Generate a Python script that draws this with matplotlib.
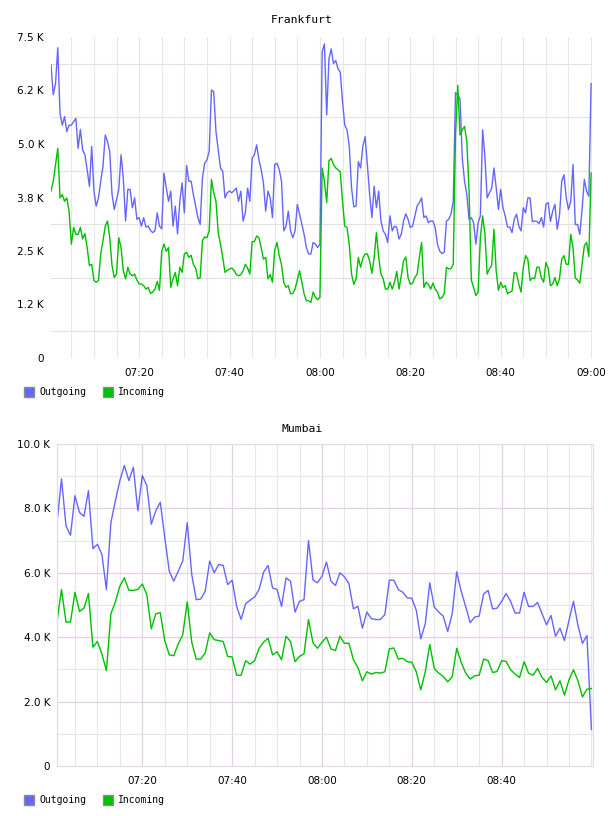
import numpy as np
import matplotlib
matplotlib.use('Agg')
import matplotlib.pyplot as plt
from matplotlib.patches import Rectangle

W, H = 608, 816
BLUE = '#6666ff'
GREEN = '#00c000'

# Frankfurt: one sample every 30 s, minutes after 07:00
fra_time = np.arange(1, 241) * 0.5
fra_out = [
    6850, 6150, 6410, 7250, 5710, 5440, 5640, 5290, 5440, 5440,
    5520, 5600, 4900, 5340, 4860, 4750, 4400, 4010, 4940, 3900,
    3550, 3740, 4130, 4480, 5210, 5060, 4820, 3820, 3470, 3700,
    3940, 4750, 4200, 3200, 3940, 3940, 3510, 3740, 3240, 3280,
    3080, 3280, 3060, 3080, 2980, 2930, 2970, 3390, 3080, 3020,
    4320, 3980, 3660, 3900, 3080, 3550, 2900, 3660, 4090, 3390,
    4500, 4130, 4130, 3820, 3550, 3280, 3120, 4200, 4550, 4630,
    4830, 6260, 6220, 5290, 4860, 4440, 4360, 3740, 3860, 3900,
    3860, 3910, 3970, 3660, 3900, 3200, 3390, 3970, 3660, 4670,
    4750, 4980, 4630, 4400, 4090, 3430, 3900, 3740, 3280, 4520,
    4550, 4400, 4130, 2970, 3080, 3430, 2970, 2810, 2970, 3590,
    3360, 3120, 2890, 2580, 2430, 2430, 2700, 2660, 2580, 2660,
    7150, 7340, 5680, 6990, 7220, 6880, 6950, 6760, 6680, 5990,
    5440, 5330, 4940, 3970, 3530, 3550, 4590, 4440, 4940, 5170,
    4520, 3820, 3280, 4010, 3510, 3900, 3200, 2970, 2890, 2700,
    3320, 2970, 3080, 3050, 2780, 2890, 3200, 3370, 3240, 3050,
    3080, 3320, 3550, 3630, 3740, 3280, 3320, 3160, 3200, 3200,
    3050, 2660, 2500, 2440, 2470, 3200, 3240, 3360, 3660, 6200,
    6140, 6060, 4670, 4130, 3820, 3240, 3280, 3160, 2660, 3160,
    3320, 5330, 4710, 3740, 3860, 3960, 4440, 3980, 3470, 3940,
    3510, 3320, 3060, 3060, 2930, 3240, 3360, 3080, 2970, 3510,
    3390, 3740, 3740, 3190, 3200, 3190, 3140, 3280, 3060, 3590,
    3630, 3190, 3430, 3590, 3010, 3320, 4130, 4280, 3740, 3470,
    3660, 4520, 3120, 3120, 2890, 3470, 4170, 3900, 3780, 6410,
]
fra_in = [
    3900, 4130, 4520, 4900, 3740, 3820, 3660, 3740, 3430, 2660,
    3050, 2890, 2890, 3050, 2780, 2910, 2580, 2160, 2190, 1810,
    1770, 1810, 2430, 2740, 3080, 3200, 2810, 2160, 1880, 1960,
    2810, 2580, 2040, 1850, 2120, 1960, 1920, 1960, 1820, 1730,
    1730, 1690, 1610, 1650, 1510, 1540, 1610, 1790, 1580, 2500,
    2660, 2490, 2580, 1650, 1850, 2000, 1690, 2120, 2000, 2430,
    2470, 2350, 2400, 2190, 2100, 1850, 1870, 2740, 2830, 2810,
    2970, 4170, 3860, 3660, 2930, 2660, 2350, 2000, 2050, 2080,
    2100, 2050, 1950, 1920, 1950, 2040, 2190, 2100, 1960, 2720,
    2720, 2850, 2810, 2580, 2310, 2350, 1850, 1950, 1770, 2520,
    2700, 2390, 2180, 1770, 1650, 1690, 1500, 1510, 1610, 1820,
    2040, 1770, 1500, 1340, 1340, 1300, 1540, 1420, 1360, 1420,
    4440, 4130, 3630, 4610, 4660, 4520, 4440, 4400, 4350, 3660,
    3080, 3050, 2640, 1960, 1720, 1850, 2350, 2120, 2330, 2430,
    2430, 2270, 1980, 2350, 2930, 2360, 1960, 1850, 1610, 1610,
    1770, 1610, 1770, 2020, 1610, 1920, 2270, 2360, 1880, 1720,
    1750, 1880, 1960, 2350, 2700, 1650, 1770, 1720, 1610, 1750,
    1610, 1540, 1380, 1410, 1500, 2120, 2080, 2090, 2190, 5210,
    6370, 5210, 5330, 5410, 5060, 3900, 1820, 1650, 1460, 1540,
    2810, 3320, 2910, 1960, 2080, 2160, 3010, 2040, 1580, 1770,
    1650, 1690, 1500, 1540, 1560, 2000, 1980, 1730, 1540, 2120,
    2390, 2310, 1810, 1870, 1850, 2120, 2120, 1870, 1770, 2230,
    2100, 1690, 1730, 1880, 1690, 1850, 2310, 2390, 2190, 2190,
    2890, 2580, 1870, 1820, 1750, 2190, 2620, 2700, 2370, 4320,
]

# Mumbai: one sample per minute
mum_time = np.arange(1, 121)
mum_out = [
    7560, 8920, 7460, 7165, 8395, 7875, 7750, 8550, 6750, 6885,
    6570, 5480, 7560, 8240, 8865, 9335, 8865, 9280, 7925, 9020,
    8710, 7510, 7925, 8190, 7095, 6050, 5740, 6050, 6365, 7560,
    5950, 5165, 5185, 5425, 6365, 6000, 6260, 6230, 5635, 5770,
    4955, 4550, 5040, 5150, 5250, 5480, 6020, 6230, 5530, 5480,
    4955, 5840, 5740, 4780, 5115, 5165, 7000, 5780, 5690, 5895,
    6335, 5740, 5605, 6000, 5875, 5665, 4880, 4960, 4280, 4780,
    4575, 4550, 4550, 4700, 5770, 5770, 5480, 5395, 5220, 5210,
    4835, 3950, 4415, 5690, 4940, 4780, 4655, 4175, 4730, 6030,
    5425, 4955, 4450, 4625, 4655, 5345, 5450, 4875, 4905, 5115,
    5355, 5115, 4750, 4750, 5395, 4955, 4955, 5080, 4730, 4385,
    4675, 4030, 4280, 3895, 4520, 5115, 4365, 3810, 4050, 1135,
]
mum_in = [
    4490, 5480, 4470, 4470, 5395, 4800, 4905, 5355, 3690, 3865,
    3480, 2960, 4730, 5095, 5585, 5845, 5455, 5455, 5480, 5655,
    5320, 4260, 4730, 4760, 3895, 3450, 3425, 3790, 4075, 5100,
    3845, 3320, 3320, 3510, 4135, 3925, 3895, 3865, 3405, 3385,
    2820, 2820, 3270, 3165, 3270, 3655, 3845, 3970, 3450, 3550,
    3300, 4030, 3865, 3240, 3405, 3480, 4550, 3825, 3655, 3845,
    4000, 3635, 3585, 4030, 3810, 3810, 3300, 3060, 2645, 2925,
    2855, 2905, 2885, 2925, 3635, 3665, 3320, 3345, 3240, 3220,
    2925, 2365, 2925, 3770, 3030, 2885, 2780, 2615, 2770, 3655,
    3220, 2885, 2700, 2800, 2820, 3320, 3270, 2905, 2935, 3270,
    3250, 2990, 2855, 2750, 3240, 2885, 2820, 3030, 2750, 2595,
    2800, 2365, 2645, 2200, 2675, 2990, 2645, 2145, 2385, 2405,
]

time_ticks = [20, 40, 60, 80, 100, 120]
time_labels = ['07:20', '07:40', '08:00', '08:20', '08:40', '09:00']
minor_times = [m for m in range(5, 121, 5) if m % 20]

fra_yticks = [0, 1250, 2500, 3750, 5000, 6250, 7500]
fra_ylabels = ['0', '1.2 K', '2.5 K', '3.8 K', '5.0 K', '6.2 K', '7.5 K']
mum_yticks = [0, 2000, 4000, 6000, 8000, 10000]
mum_ylabels = ['0', '2.0 K', '4.0 K', '6.0 K', '8.0 K', '10.0 K']


def box(x, y, w, h):
    # pixel box (top-left origin) -> figure fraction rect
    return [x / W, 1 - (y + h) / H, w / W, h / H]


def legend(fig, y):
    for x, c, label in [(24, BLUE, 'Outgoing'), (103, GREEN, 'Incoming')]:
        fig.add_artist(Rectangle((x / W, 1 - (y + 5) / H), 10 / W, 10 / H,
                                 transform=fig.transFigure, facecolor=c,
                                 edgecolor='#8c8c8c', lw=1))
        fig.text((x + 15) / W, 1 - y / H, label, ha='left', va='center',
                 family='DejaVu Sans Mono', size=7)


fig = plt.figure(figsize=(W / 100, H / 100), dpi=100)
tick_font = dict(family='DejaVu Sans', size=7.5)

# Frankfurt
ax = fig.add_axes(box(51, 37, 541, 321))
ax.plot(fra_time, fra_out, color=BLUE, lw=1.0)
ax.plot(fra_time, fra_in, color=GREEN, lw=1.0)
ax.set_xlim(0.5, 120.2)
ax.set_ylim(0, 7500)
ax.set_xticks(time_ticks)
ax.set_xticklabels(time_labels, **tick_font)
ax.set_xticks(minor_times, minor=True)
ax.set_yticks(fra_yticks)
ax.set_yticklabels(fra_ylabels, **tick_font)
ax.set_yticks([625 + 1250 * i for i in range(6)], minor=True)
ax.grid(which='both', axis='x', color='#e8e8e8', lw=0.8)
ax.grid(which='minor', axis='y', color='#e2e2e2', lw=0.8)
ax.set_axisbelow(True)
ax.tick_params(which='both', length=0)
ax.tick_params(axis='y', pad=5)
ax.tick_params(axis='x', pad=7)
for s in ax.spines.values():
    s.set_visible(False)
fig.text(302 / W, 1 - 20 / H, 'Frankfurt', ha='center', va='center',
         family='DejaVu Sans Mono', size=8.2)
legend(fig, 392)

# Mumbai
ax2 = fig.add_axes(box(57, 444, 536, 322))
ax2.plot(mum_time, mum_out, color=BLUE, lw=1.0)
ax2.plot(mum_time, mum_in, color=GREEN, lw=1.0)
ax2.set_xlim(1, 120.35)
ax2.set_ylim(0, 10000)
ax2.set_xticks(time_ticks[:-1])
ax2.set_xticklabels(time_labels[:-1], **tick_font)
ax2.set_xticks(minor_times + [120], minor=True)
ax2.set_yticks(mum_yticks)
ax2.set_yticklabels(mum_ylabels, **tick_font)
ax2.set_yticks([1000, 3000, 5000, 7000, 9000], minor=True)
ax2.grid(which='major', color='#e2d0e4', lw=0.9)
ax2.grid(which='minor', color='#e8e8e8', lw=0.8)
ax2.set_axisbelow(True)
ax2.tick_params(which='both', length=0)
ax2.tick_params(axis='y', pad=5)
ax2.tick_params(axis='x', pad=7)
for s in ax2.spines.values():
    s.set_color('#ead8ea')
fig.text(302 / W, 1 - 429 / H, 'Mumbai', ha='center', va='center',
         family='DejaVu Sans Mono', size=8.2)
legend(fig, 800)

fig.savefig('out.png', dpi=100)
